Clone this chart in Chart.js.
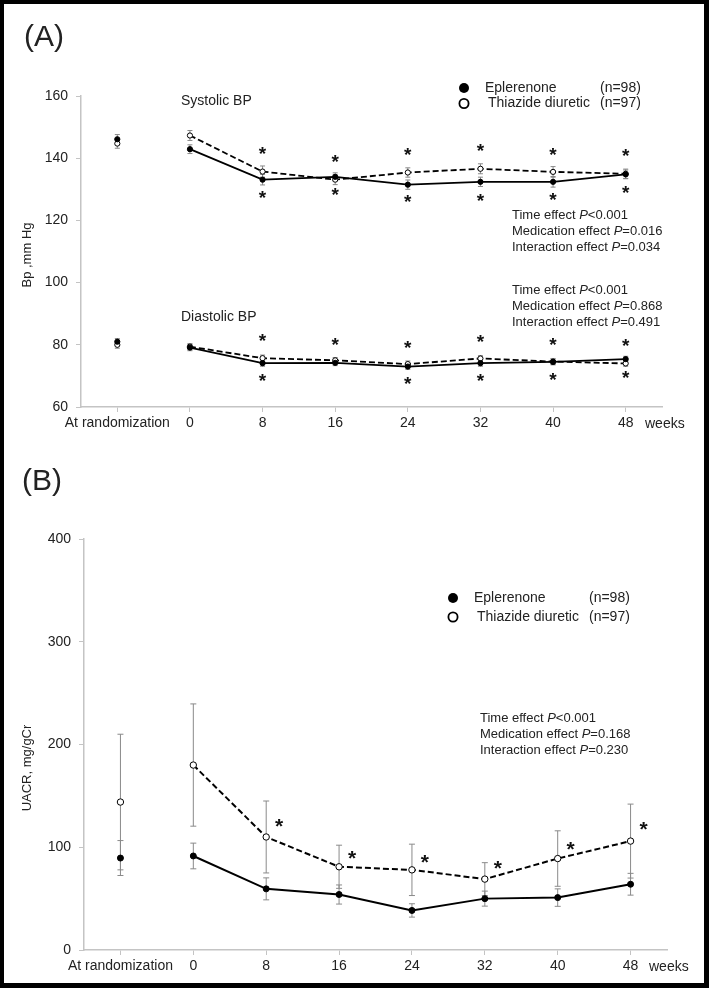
<!DOCTYPE html>
<html>
<head>
<meta charset="utf-8">
<script src="https://cdn.jsdelivr.net/npm/chart.js@4/dist/chart.umd.min.js"></script>
<style>
  body { margin: 0; background: #fff; }
  #wrap { position: relative; width: 709px; height: 988px; background: #fff; }
  #chartA { position: absolute; left: 0; top: 0; }
  #chartB { position: absolute; left: 0; top: 455px; }
  #frame { position: absolute; left: 0; top: 0; width: 709px; height: 988px; box-sizing: border-box;
           border: 4px solid #000; border-right-width: 5px; border-bottom-width: 5px; pointer-events: none; }
</style>
</head>
<body>
<div id="wrap">
  <canvas id="chartA" width="709" height="455"></canvas>
  <canvas id="chartB" width="709" height="533"></canvas>
  <div id="frame"></div>
</div>
<script>
const labels = ['At randomization', '0', '8', '16', '24', '32', '40', '48'];

// (A) blood pressure, mm Hg
const sysEplerenone = [146.1, 142.9, 133.1, 134.0, 131.5, 132.4, 132.4, 134.8];
const sysThiazide   = [144.7, 147.3, 135.7, 133.1, 135.4, 136.6, 135.6, 135.0];
const sysEplerenoneErr = [1.5, 1.4, 1.7, 1.3, 1.5, 1.5, 1.7, 1.4];
const sysThiazideErr   = [1.5, 1.6, 1.8, 1.6, 1.5, 1.6, 1.7, 1.5];
const diaEplerenone = [81.0, 79.1, 74.1, 74.2, 73.0, 74.1, 74.5, 75.4];
const diaThiazide   = [80.0, 79.4, 75.7, 75.0, 73.8, 75.6, 74.6, 74.0];
const diaEplerenoneErr = [1.0, 1.0, 1.0, 0.9, 0.9, 1.0, 0.9, 0.9];
const diaThiazideErr   = [1.1, 1.0, 1.0, 0.9, 1.0, 0.9, 1.0, 0.9];
// significance marks (*), y value where drawn
const sysStarUp   = [null, null, 142.6, 140.0, 142.4, 143.5, 142.4, 142.0];
const sysStarDown = [null, null, 128.4, 129.4, 127.2, 127.5, 127.7, 130.2];
const diaStarUp   = [null, null, 82.4, 81.3, 80.4, 82.2, 81.3, 81.0];
const diaStarDown = [null, null, 69.5, null, 68.6, 69.5, 70.0, 70.5];
const bpTicks = [60, 80, 100, 120, 140, 160];

// (B) UACR, mg/gCr
const uacrEplerenone = [89.5, 91.5, 59.5, 54.0, 38.5, 50.0, 51.0, 64.0];
const uacrThiazide   = [144, 180, 110, 81, 78, 69, 89, 106];
const uacrEplerenoneErr = [17, 12.5, 10.7, 9.3, 6.5, 7.3, 8.5, 10.6];
const uacrThiazideErr   = [66, 59.5, 35, 21, 25, 16, 27, 36];
const uacrStar = [null, null, 124.6, 93.0, 89.2, 84.0, 102.5, 121.3];
const uacrTicks = [0, 100, 200, 300, 400];

const FONT = "'Liberation Sans', Arial, sans-serif";
const INK = '#222';
const AXIS = '#c4c4c4';

function font(size, style) {
  return (style ? style + ' ' : '') + size + 'px ' + FONT;
}

// text with an italic "P"
function drawStat(ctx, x, y, before, after) {
  ctx.font = font(13);
  ctx.fillText(before, x, y);
  x += ctx.measureText(before).width;
  ctx.font = font(13, 'italic');
  ctx.fillText('P', x, y);
  x += ctx.measureText('P').width;
  ctx.font = font(13);
  ctx.fillText(after, x, y);
}

function drawLegend(ctx, x, y, r) {
  ctx.fillStyle = '#000';
  ctx.beginPath(); ctx.arc(x, y, 5, 0, Math.PI * 2); ctx.fill();
  ctx.strokeStyle = '#000'; ctx.lineWidth = 1.8;
  ctx.beginPath(); ctx.arc(x, y + r, 4.6, 0, Math.PI * 2);
  ctx.fillStyle = '#fff'; ctx.fill(); ctx.stroke();
  ctx.fillStyle = INK;
  ctx.font = font(14);
  ctx.fillText('Eplerenone', x + 21, y);
  ctx.fillText('(n=98)', x + 136, y);
  ctx.fillText('Thiazide diuretic', x + 24, y + r);
  ctx.fillText('(n=97)', x + 136, y + r);
}

function decor(cfg) {
  return {
    id: 'decor',
    beforeDatasetsDraw(chart) {
      const { ctx, scales: { x, y } } = chart;
      ctx.save();
      ctx.strokeStyle = cfg.errColor;
      ctx.lineWidth = 1;
      chart.data.datasets.forEach(ds => {
        ds.data.forEach((v, i) => {
          const e = ds.errors[i];
          const px = x.getPixelForValue(i);
          const top = y.getPixelForValue(v + e), bot = y.getPixelForValue(v - e);
          ctx.beginPath();
          ctx.moveTo(px, top); ctx.lineTo(px, bot);
          ctx.moveTo(px - cfg.cap, top); ctx.lineTo(px + cfg.cap, top);
          ctx.moveTo(px - cfg.cap, bot); ctx.lineTo(px + cfg.cap, bot);
          ctx.stroke();
        });
      });
      ctx.restore();
    },
    afterDraw(chart) {
      const { ctx, scales: { x, y } } = chart;
      ctx.save();
      ctx.fillStyle = '#111';
      ctx.textAlign = 'center';
      ctx.textBaseline = 'middle';
      ctx.font = font(cfg.starSize, 'bold');
      cfg.stars.forEach(s => {
        s.values.forEach((v, i) => {
          if (v == null) return;
          ctx.fillText('*', x.getPixelForValue(i) + s.dx, y.getPixelForValue(v) + cfg.starSize * 0.25);
        });
      });
      ctx.fillStyle = INK;
      ctx.textAlign = 'left';
      ctx.font = font(30);
      ctx.fillText(cfg.panel, cfg.panelX, cfg.panelY);
      ctx.font = font(14);
      (cfg.notes || []).forEach(n => ctx.fillText(n.text, n.x, n.y));
      ctx.fillText('weeks', cfg.weeksX, cfg.weeksY);
      cfg.stats.forEach(b => {
        drawStat(ctx, b.x, b.y, 'Time effect ', '<0.001');
        drawStat(ctx, b.x, b.y + 16, 'Medication effect ', '=' + b.med);
        drawStat(ctx, b.x, b.y + 32, 'Interaction effect ', '=' + b.inter);
      });
      drawLegend(ctx, cfg.legendX, cfg.legendY, cfg.legendGap);
      // y axis title
      ctx.save();
      ctx.translate(cfg.titleX, cfg.titleY);
      ctx.rotate(-Math.PI / 2);
      ctx.textAlign = 'center';
      ctx.font = font(13);
      ctx.fillText(cfg.yTitle, 0, 0);
      ctx.restore();
      ctx.restore();
    }
  };
}

function series(values, errors, filled, dashed, lw, r) {
  return {
    data: values,
    errors: errors,
    borderColor: '#000',
    borderWidth: lw,
    borderDash: dashed ? [6, 3] : [],
    pointRadius: r,
    pointBorderWidth: 1,
    pointBorderColor: '#000',
    pointBackgroundColor: filled ? '#000' : '#fff',
    tension: 0,
    segment: { borderColor: c => c.p0DataIndex === 0 ? 'rgba(0,0,0,0)' : '#000' }
  };
}

function scalesFor(ticks, yWidth) {
  return {
    x: {
      offset: true,
      grid: { drawOnChartArea: false, tickLength: 5, color: AXIS },
      border: { color: AXIS, width: 1.5 },
      ticks: { color: INK, font: { family: FONT, size: 14 }, padding: 3,
               maxRotation: 0, minRotation: 0, autoSkip: false },
      afterFit: s => { s.height = 30; }
    },
    y: {
      min: ticks[0], max: ticks[ticks.length - 1],
      afterBuildTicks: s => { s.ticks = ticks.map(v => ({ value: v })); },
      grid: { drawOnChartArea: false, tickLength: 5, color: AXIS },
      border: { color: AXIS, width: 1.5 },
      ticks: { color: INK, font: { family: FONT, size: 14 }, padding: 8 },
      afterFit: s => { s.width = yWidth; }
    }
  };
}

const common = {
  responsive: false,
  animation: false,
  events: [],
  plugins: { legend: { display: false }, tooltip: { enabled: false } }
};

new Chart(document.getElementById('chartA'), {
  type: 'line',
  data: {
    labels: labels,
    datasets: [
      series(sysEplerenone, sysEplerenoneErr, true, false, 1.8, 2.6),
      series(sysThiazide, sysThiazideErr, false, true, 1.8, 2.6),
      series(diaEplerenone, diaEplerenoneErr, true, false, 1.8, 2.6),
      series(diaThiazide, diaThiazideErr, false, true, 1.8, 2.6)
    ]
  },
  options: Object.assign({}, common, {
    layout: { padding: { left: 21, right: 47, top: 96, bottom: 18 } },
    scales: scalesFor(bpTicks, 60)
  }),
  plugins: [decor({
    errColor: '#888', cap: 2.5, starSize: 19,
    stars: [
      { values: sysStarUp, dx: 0 }, { values: sysStarDown, dx: 0 },
      { values: diaStarUp, dx: 0 }, { values: diaStarDown, dx: 0 }
    ],
    panel: '(A)', panelX: 24, panelY: 38,
    notes: [
      { text: 'Systolic BP', x: 181, y: 101 },
      { text: 'Diastolic BP', x: 181, y: 317 }
    ],
    weeksX: 645, weeksY: 424,
    stats: [
      { x: 512, y: 215, med: '0.016', inter: '0.034' },
      { x: 512, y: 290, med: '0.868', inter: '0.491' }
    ],
    legendX: 464, legendY: 88, legendGap: 15.5,
    yTitle: 'Bp ,mm Hg', titleX: 27, titleY: 255
  })]
});

new Chart(document.getElementById('chartB'), {
  type: 'line',
  data: {
    labels: labels,
    datasets: [
      series(uacrEplerenone, uacrEplerenoneErr, true, false, 2, 3),
      series(uacrThiazide, uacrThiazideErr, false, true, 2, 3.2)
    ]
  },
  options: Object.assign({}, common, {
    layout: { padding: { left: 24, right: 42, top: 84, bottom: 8 } },
    scales: scalesFor(uacrTicks, 60)
  }),
  plugins: [decor({
    errColor: '#8a8a8a', cap: 3, starSize: 21,
    stars: [{ values: uacrStar, dx: 13 }],
    panel: '(B)', panelX: 22, panelY: 27,
    notes: [],
    weeksX: 649, weeksY: 512,
    stats: [{ x: 480, y: 263, med: '0.168', inter: '0.230' }],
    legendX: 453, legendY: 143, legendGap: 19,
    yTitle: 'UACR, mg/gCr', titleX: 27, titleY: 313
  })]
});
</script>
</body>
</html>
